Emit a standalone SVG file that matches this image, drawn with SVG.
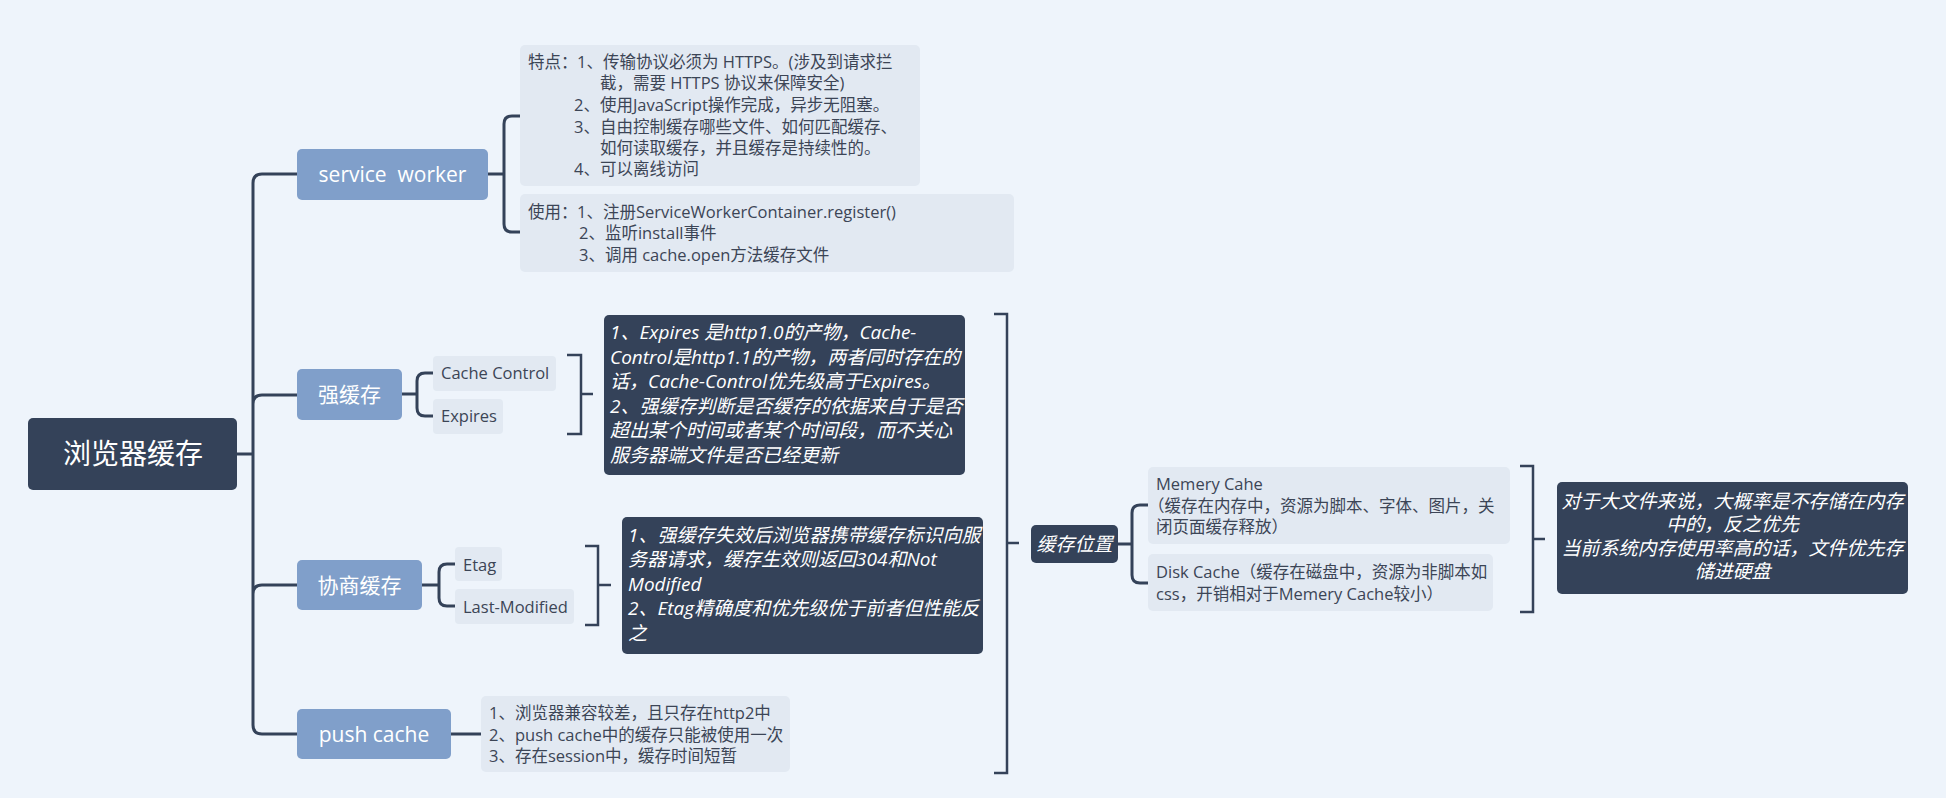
<svg xmlns="http://www.w3.org/2000/svg" width="1946" height="798" viewBox="0 0 1946 798">
<style>
text{font-family:"Open Sans","Noto Sans CJK SC",sans-serif;white-space:pre}
.dark{fill:#344259}
.main{fill:#809fca}
.light{fill:#e2e9f2}
.tw{fill:#ffffff}
.tl{fill:#3c4556;font-size:16.5px}
.ti{fill:#ffffff;font-style:italic;font-size:19px}
.t21{fill:#ffffff;font-size:21px}
.ln{fill:none;stroke:#344259;stroke-width:3;stroke-linecap:round;stroke-linejoin:round}
.ls{fill:none;stroke:#344259;stroke-width:2.5;stroke-linecap:butt;stroke-linejoin:miter}
</style>
<rect width="1946" height="798" fill="#eef4fb"/>
<g id="connectors">
<path class="ln" d="M237 454 H253 M297 174 H262 Q253 174 253 183 V725 Q253 734 262 734 H297 M253 404 Q253 395 262 395 H297 M253 594 Q253 585 262 585 H297"/>
<path class="ln" d="M488 174 H504 M520 116 H512 Q504 116 504 124 V224 Q504 232 512 232 H520"/>
<path class="ln" d="M402 394 H417 M433 373 H425 Q417 373 417 381 V408 Q417 416 425 416 H433"/>
<path class="ln" d="M422 585 H439 M455 564 H447 Q439 564 439 572 V598 Q439 606 447 606 H455"/>
<path class="ln" d="M451 734 H481"/>
<path class="ln" d="M1118 544 H1132 M1148 505 H1140 Q1132 505 1132 513 V575 Q1132 583 1140 583 H1148"/>
<path class="ls" d="M567 355 H581 V434 H567 M581 394 H593"/>
<path class="ls" d="M585 546 H598 V625 H585 M598 585 H611"/>
<path class="ls" d="M994 314 H1007 V773 H994 M1007 543 H1019"/>
<path class="ls" d="M1520 466 H1533 V612 H1520 M1533 539 H1545"/>
</g>
<g id="root">
<rect class="dark" x="28" y="418" width="209" height="72" rx="5"/>
<text class="tw" x="133" y="464" font-size="28" text-anchor="middle">浏览器缓存</text>
</g>
<g id="service-worker">
<rect class="main" x="297" y="149" width="191" height="51" rx="5"/>
<text class="t21" x="392.5" y="182" text-anchor="middle">service  worker</text>
</g>
<g id="sw-features">
<rect class="light" x="520" y="45" width="400" height="141" rx="5"/>
<text class="tl" x="528" y="68">特点：</text>
<text class="tl" x="577" y="68">1、传输协议必须为 HTTPS。(涉及到请求拦</text>
<text class="tl" x="600" y="89">截，需要 HTTPS 协议来保障安全)</text>
<text class="tl" x="574" y="111">2、使用JavaScript操作完成，异步无阻塞。</text>
<text class="tl" x="574" y="133">3、自由控制缓存哪些文件、如何匹配缓存、</text>
<text class="tl" x="600" y="154">如何读取缓存，并且缓存是持续性的。</text>
<text class="tl" x="574" y="175">4、可以离线访问</text>
</g>
<g id="sw-usage">
<rect class="light" x="520" y="194" width="494" height="78" rx="5"/>
<text class="tl" x="528" y="218">使用：</text>
<text class="tl" x="577" y="218">1、注册ServiceWorkerContainer.register()</text>
<text class="tl" x="579" y="239">2、监听install事件</text>
<text class="tl" x="579" y="261">3、调用 cache.open方法缓存文件</text>
</g>
<g id="strong-cache">
<rect class="main" x="297" y="369" width="105" height="51" rx="5"/>
<text class="t21" x="349.5" y="402" text-anchor="middle">强缓存</text>
</g>
<g id="cache-control">
<rect class="light" x="433" y="356" width="123" height="35" rx="4"/>
<text class="tl" x="441" y="379">Cache Control</text>
</g>
<g id="expires">
<rect class="light" x="433" y="399" width="70" height="35" rx="4"/>
<text class="tl" x="441" y="422">Expires</text>
</g>
<g id="strong-note">
<rect class="dark" x="604" y="315" width="361" height="160" rx="5"/>
<text class="ti" x="610" y="339">1、Expires 是http1.0的产物，Cache-</text>
<text class="ti" x="610" y="364">Control是http1.1的产物，两者同时存在的</text>
<text class="ti" x="610" y="388">话，Cache-Control优先级高于Expires。</text>
<text class="ti" x="610" y="413">2、强缓存判断是否缓存的依据来自于是否</text>
<text class="ti" x="610" y="437">超出某个时间或者某个时间段，而不关心</text>
<text class="ti" x="610" y="462">服务器端文件是否已经更新</text>
</g>
<g id="negotiate-cache">
<rect class="main" x="297" y="560" width="125" height="50" rx="5"/>
<text class="t21" x="359.5" y="593" text-anchor="middle">协商缓存</text>
</g>
<g id="etag">
<rect class="light" x="455" y="547" width="47" height="34" rx="4"/>
<text class="tl" x="463" y="571">Etag</text>
</g>
<g id="last-modified">
<rect class="light" x="455" y="589" width="119" height="35" rx="4"/>
<text class="tl" x="463" y="613">Last-Modified</text>
</g>
<g id="negotiate-note">
<rect class="dark" x="622" y="517" width="361" height="137" rx="5"/>
<text class="ti" x="628" y="542">1、强缓存失效后浏览器携带缓存标识向服</text>
<text class="ti" x="628" y="566">务器请求，缓存生效则返回304和Not</text>
<text class="ti" x="628" y="591">Modified</text>
<text class="ti" x="628" y="615">2、Etag精确度和优先级优于前者但性能反</text>
<text class="ti" x="628" y="640">之</text>
</g>
<g id="push-cache">
<rect class="main" x="297" y="709" width="154" height="50" rx="5"/>
<text class="t21" x="374" y="742" text-anchor="middle">push cache</text>
</g>
<g id="push-details">
<rect class="light" x="481" y="696" width="309" height="76" rx="5"/>
<text class="tl" x="489" y="719">1、浏览器兼容较差，且只存在http2中</text>
<text class="tl" x="489" y="741">2、push cache中的缓存只能被使用一次</text>
<text class="tl" x="489" y="762">3、存在session中，缓存时间短暂</text>
</g>
<g id="cache-location">
<rect class="dark" x="1031" y="525" width="87" height="38" rx="5"/>
<text class="ti" x="1074.5" y="551" text-anchor="middle">缓存位置</text>
</g>
<g id="memory-cache">
<rect class="light" x="1148" y="467" width="362" height="77" rx="5"/>
<text class="tl" x="1156" y="490">Memery Cahe</text>
<text class="tl" x="1148" y="512">（缓存在内存中，资源为脚本、字体、图片，关</text>
<text class="tl" x="1156" y="533">闭页面缓存释放）</text>
</g>
<g id="disk-cache">
<rect class="light" x="1148" y="554" width="345" height="57" rx="5"/>
<text class="tl" x="1156" y="578">Disk Cache（缓存在磁盘中，资源为非脚本如</text>
<text class="tl" x="1156" y="600">css，开销相对于Memery Cache较小）</text>
</g>
<g id="location-note">
<rect class="dark" x="1557" y="482" width="351" height="112" rx="5"/>
<text class="ti" x="1732.5" y="508" text-anchor="middle">对于大文件来说，大概率是不存储在内存</text>
<text class="ti" x="1732.5" y="531" text-anchor="middle">中的，反之优先</text>
<text class="ti" x="1732.5" y="555" text-anchor="middle">当前系统内存使用率高的话，文件优先存</text>
<text class="ti" x="1732.5" y="578" text-anchor="middle">储进硬盘</text>
</g>
</svg>
